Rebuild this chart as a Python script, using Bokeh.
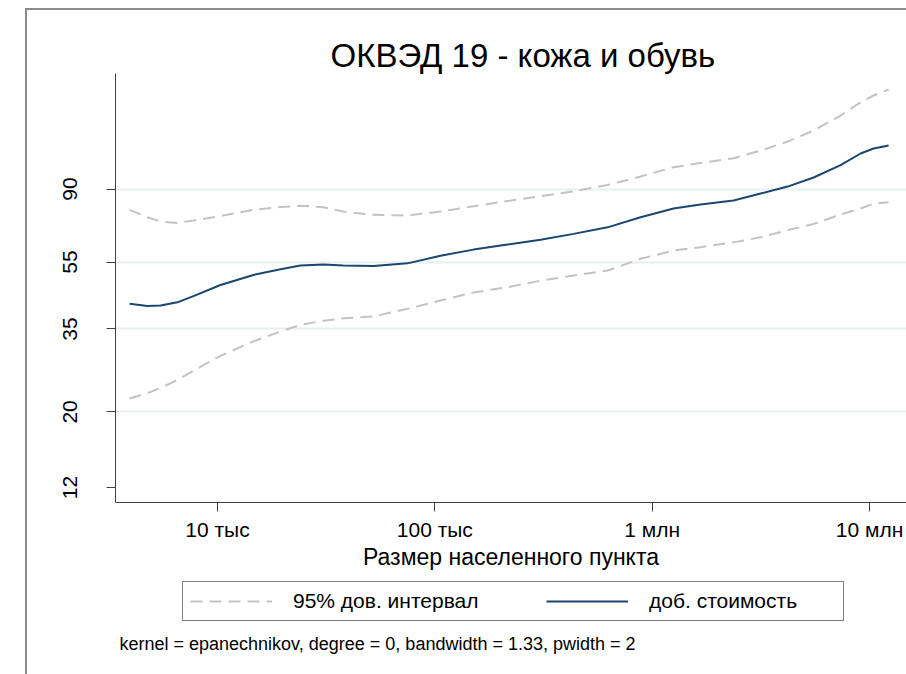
from bokeh.plotting import figure
from bokeh.layouts import column
from bokeh.models import FixedTicker, Legend, LegendItem, Range1d, Label
from bokeh.embed import file_html
from bokeh.resources import INLINE

# ---- data ----
population = [3940, 4760, 5470, 6540, 7750, 10320, 14640, 19500, 24100, 30740,
              37990, 52230, 74890, 106200, 150700, 216100, 306500, 434800, 623400, 884300,
              1254000, 1670000, 2369000, 3155000, 4200000, 5534000, 7362000, 9100000, 10445000, 12243000]
value_added = [41.5, 40.9, 41.0, 41.9, 43.7, 47.1, 50.4, 52.4, 53.7, 54.1,
               53.7, 53.5, 54.5, 57.4, 59.8, 61.9, 63.9, 66.5, 69.5, 74.4,
               78.9, 81.1, 83.3, 87.3, 91.5, 97.3, 105.8, 114.4, 118.3, 120.7]
ci_upper = [78.2, 74.4, 72.3, 71.6, 72.8, 75.0, 78.2, 79.7, 80.4, 79.6,
            77.3, 75.6, 75.3, 77.3, 80.1, 83.0, 85.7, 88.6, 92.5, 97.9,
            104.3, 107.3, 110.8, 116.7, 124.0, 133.6, 147.8, 161.7, 169.2, 176.2]
ci_lower = [21.9, 22.7, 23.5, 24.8, 26.4, 29.2, 32.2, 34.4, 36.0, 37.0,
            37.6, 38.1, 40.1, 42.4, 44.8, 46.4, 48.5, 50.2, 51.9, 56.2,
            59.4, 60.8, 62.8, 65.0, 68.2, 71.1, 75.8, 78.9, 81.6, 82.3]

x_ticks = [10000, 100000, 1000000, 10000000]
x_tick_labels = ["10 тыс", "100 тыс", "1 млн", "10 млн"]
y_ticks = [12, 20, 35, 55, 90]
y_tick_labels = ["12", "20", "35", "55", "90"]
y_grid_ticks = [20, 35, 55, 90]

title_text = "ОКВЭД 19 - кожа и обувь"
x_title = "Размер населенного пункта"
legend_labels = ["95% дов. интервал", "доб. стоимость"]
note_text = "kernel = epanechnikov, degree = 0, bandwidth = 1.33, pwidth = 2"

FONT = "Liberation Sans"
NAVY = "#1a476f"
GRAY = "#c3c3c3"
AXIS = "#404040"
DASH = "12 7"

# ---------------- main plot ----------------
p = figure(width=879, height=562, x_axis_type="log", y_axis_type="log",
           x_range=Range1d(3394, 1.48e7), y_range=Range1d(10.85, 196.3),
           output_backend="svg", toolbar_location=None,
           min_border_left=88, min_border_right=0, min_border_top=63,
           min_border_bottom=70)

p.outline_line_color = None
p.background_fill_color = "white"
p.border_fill_color = "white"

p.title.text = title_text
p.title.text_font = FONT
p.title.text_font_size = "33px"
p.title.text_font_style = "normal"
p.title.text_color = "black"
p.title.align = "left"
p.title.offset = 215
p.title.standoff = 0

p.line(population, ci_upper, line_color=GRAY, line_width=2, line_dash=DASH)
p.line(population, ci_lower, line_color=GRAY, line_width=2, line_dash=DASH)
p.line(population, value_added, line_color=NAVY, line_width=2)

xa = p.xaxis[0]
xa.ticker = FixedTicker(ticks=x_ticks, minor_ticks=[])
xa.major_label_overrides = dict(zip(x_ticks, x_tick_labels))
xa.major_tick_out = 9
xa.major_tick_in = 0
xa.minor_tick_line_color = None
xa.axis_line_color = AXIS
xa.major_tick_line_color = AXIS
xa.major_label_text_font = FONT
xa.major_label_text_font_size = "21px"
xa.major_label_text_color = "black"
xa.major_label_standoff = 6
xa.axis_label = x_title
xa.axis_label_text_font = FONT
xa.axis_label_text_font_size = "23px"
xa.axis_label_text_font_style = "normal"
xa.axis_label_text_color = "black"
xa.axis_label_standoff = 0

ya = p.yaxis[0]
ya.ticker = FixedTicker(ticks=y_ticks, minor_ticks=[])
ya.major_label_overrides = dict(zip(y_ticks, y_tick_labels))
ya.major_tick_out = 9
ya.major_tick_in = 0
ya.minor_tick_line_color = None
ya.axis_line_color = AXIS
ya.major_tick_line_color = AXIS
ya.major_label_text_font = FONT
ya.major_label_text_font_size = "21px"
ya.major_label_text_color = "black"
ya.major_label_orientation = "vertical"
ya.major_label_standoff = 29

p.xgrid.grid_line_color = None
p.ygrid.ticker = FixedTicker(ticks=y_grid_ticks, minor_ticks=[])
p.ygrid.grid_line_color = "#e9eff1"
p.ygrid.grid_line_width = 2

# ---------------- legend + note strip ----------------
# (frame of this strip is aligned with the main plot frame by the column layout)
p2 = figure(width=879, height=102, x_range=Range1d(0, 1), y_range=Range1d(0, 1),
            output_backend="svg", toolbar_location=None,
            x_axis_location=None, y_axis_location=None,
            min_border=0, min_border_left=0, min_border_right=0,
            min_border_top=0, min_border_bottom=0)
p2.outline_line_color = None
p2.grid.visible = False
p2.background_fill_color = "white"
p2.border_fill_color = "white"

# same series, drawn outside this strip's visible range; used only for legend keys
k_ci = p2.line(population, ci_upper, line_color=GRAY, line_width=2, line_dash=DASH)
k_mid = p2.line(population, value_added, line_color=NAVY, line_width=2)

legend = Legend(items=[LegendItem(label=legend_labels[0], renderers=[k_ci]),
                       LegendItem(label=legend_labels[1], renderers=[k_mid])],
                orientation="horizontal", location=(67, 53),
                border_line_color="black", border_line_width=1,
                label_text_font=FONT, label_text_font_size="21px",
                label_text_color="black",
                glyph_width=82, glyph_height=20, label_standoff=21,
                spacing=66, padding=7, label_width=187, margin=0,
                background_fill_color="white", background_fill_alpha=1)
p2.add_layout(legend, "center")

note = Label(x=4, y=31, x_units="screen", y_units="screen", text=note_text,
             text_font=FONT, text_font_size="18px", text_color="black",
             text_baseline="alphabetic")
p2.add_layout(note)

layout = column(p, p2, spacing=0)
layout.margin = (8, 0, 0, 25)
layout.styles = {"border-left": "2px solid #8c8c8c", "border-top": "2px solid #8c8c8c"}

open("out.html", "w").write(file_html(layout, INLINE))
